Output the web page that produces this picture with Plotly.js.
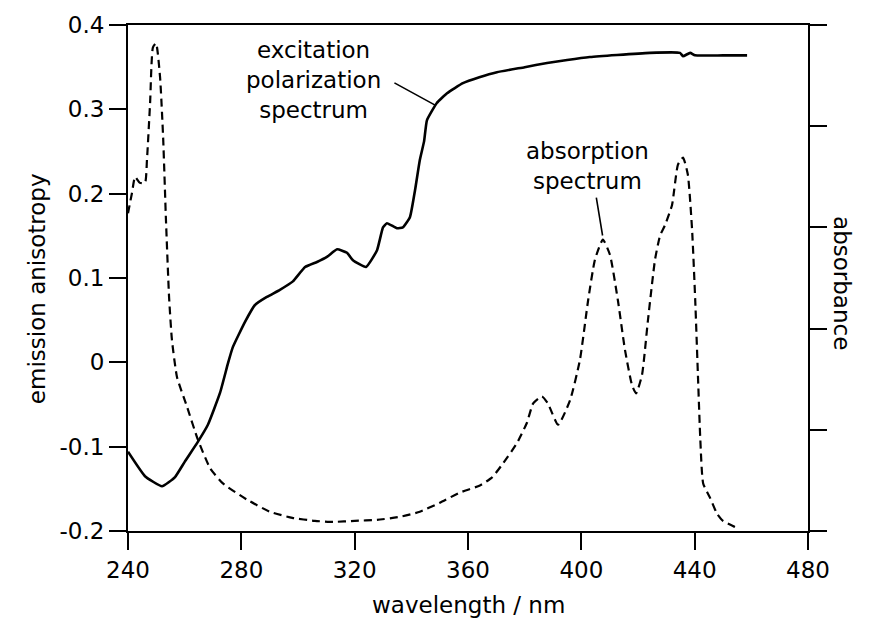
<!DOCTYPE html>
<html><head><meta charset="utf-8">
<script src="https://cdn.plot.ly/plotly-3.0.1.min.js"></script>
<style>html,body{margin:0;padding:0;background:#fff}#chart{width:869px;height:621px}</style>
</head><body><div id="chart"></div>
<script>
// Excitation polarization spectrum (emission anisotropy, left axis)
const excWavelength = [240, 246, 252, 256.6, 260, 264.7, 268.2, 272.5, 275.3, 277, 281.3, 284.8, 289, 293.6, 298.2, 302.5, 306.7, 310.2, 313.8, 317.3, 319.4, 324, 327.9, 330, 331.4, 334.9, 337, 339.5, 341.3, 343, 344.5, 345.5, 349, 352.6, 358.2, 364, 370.2, 380, 387.9, 395, 403, 412.6, 424.2, 434.8, 435.9, 438.4, 440.1, 450, 458.5];
const excAnisotropy = [-0.106, -0.135, -0.147, -0.136, -0.118, -0.094, -0.074, -0.036, -0.001, 0.018, 0.048, 0.068, 0.0775, 0.086, 0.096, 0.113, 0.119, 0.125, 0.134, 0.13, 0.121, 0.113, 0.133, 0.16, 0.165, 0.159, 0.16, 0.172, 0.204, 0.24, 0.262, 0.287, 0.3075, 0.319, 0.331, 0.338, 0.344, 0.35, 0.355, 0.3585, 0.362, 0.3645, 0.367, 0.367, 0.363, 0.367, 0.364, 0.364, 0.364];

// Absorption spectrum (absorbance, right axis, arbitrary units 0-5)
const absWavelength = [240, 241.4, 242.5, 244.2, 246, 246.7, 247.8, 248.8, 249.9, 251.3, 252.4, 253.4, 254.5, 255.5, 257.3, 260.8, 264.7, 269, 273.5, 282, 290.1, 298, 306, 312.4, 320, 327.9, 336, 343, 350.1, 357.2, 364.2, 368.5, 372.4, 377.3, 380.8, 383, 386.1, 388.2, 391.8, 396, 399.5, 402.4, 404.8, 407.6, 410.1, 412.9, 415.4, 417.9, 419.3, 421.4, 423.5, 426, 427.8, 429.5, 432, 434.1, 435.9, 437.6, 439.1, 440.2, 441.2, 442, 443, 445.4, 447.9, 450, 453.5, 455];
const absAbsorbance = [3.14, 3.34, 3.5, 3.44, 3.44, 3.67, 4.23, 4.78, 4.82, 4.49, 3.89, 3.07, 2.31, 1.89, 1.52, 1.23, 0.9, 0.62, 0.47, 0.31, 0.19, 0.13, 0.1, 0.09, 0.1, 0.11, 0.14, 0.19, 0.28, 0.38, 0.45, 0.53, 0.67, 0.87, 1.07, 1.26, 1.33, 1.26, 1.05, 1.29, 1.69, 2.28, 2.68, 2.88, 2.73, 2.28, 1.79, 1.44, 1.36, 1.54, 2.08, 2.68, 2.92, 3.02, 3.22, 3.62, 3.69, 3.52, 2.97, 2.28, 1.5, 0.9, 0.47, 0.33, 0.17, 0.1, 0.05, 0.03];

const xTickVals = [240, 280, 320, 360, 400, 440, 480];
const xTickText = ["240", "280", "320", "360", "400", "440", "480"];
const yTickVals = [0.4, 0.3, 0.2, 0.1, 0, -0.1, -0.2];
const yTickText = ["0.4", "0.3", "0.2", "0.1", "0", "-0.1", "-0.2"];
const y2TickVals = [0, 1, 2, 3, 4, 5];

const FONT = "DejaVu Sans, Liberation Sans, Arial, sans-serif";
const F = {family: FONT, size: 23, color: "#000"};

const traces = [
  {x: excWavelength, y: excAnisotropy, type: "scatter", mode: "lines",
   line: {color: "#000", width: 2.6, shape: "spline", smoothing: 0.4}, yaxis: "y", hoverinfo: "skip"},
  {x: absWavelength, y: absAbsorbance, type: "scatter", mode: "lines",
   line: {color: "#000", width: 2.2, dash: "8px,5px", shape: "spline", smoothing: 0.5}, yaxis: "y2", hoverinfo: "skip"}
];

const layout = {
  width: 869, height: 621,
  margin: {l: 128, r: 61, t: 25, b: 90},
  paper_bgcolor: "#fff", plot_bgcolor: "#fff",
  showlegend: false,
  font: F,
  xaxis: {
    range: [240, 480], tickvals: xTickVals, ticktext: xTickText,
    ticks: "outside", ticklen: 17, tickwidth: 2, tickcolor: "#000",
    showline: true, linewidth: 2, linecolor: "#000", mirror: true,
    showgrid: false, zeroline: false, tickfont: {family: FONT, size: 23, color: "#000"}
  },
  yaxis: {
    range: [-0.2, 0.4], tickvals: yTickVals, ticktext: yTickText,
    ticks: "outside", ticklen: 17, tickwidth: 2, tickcolor: "#000",
    showline: true, linewidth: 2, linecolor: "#000",
    showgrid: false, zeroline: false, tickfont: {family: FONT, size: 23, color: "#000"}
  },
  yaxis2: {
    range: [0, 5], tickvals: y2TickVals, overlaying: "y", side: "right", anchor: "x",
    ticks: "outside", ticklen: 17, tickwidth: 2, tickcolor: "#000",
    showline: true, linewidth: 2, linecolor: "#000",
    showgrid: false, zeroline: false, showticklabels: false
  },
  annotations: [
    {xref: "paper", yref: "paper", x: 0.5, y: 0, yshift: -74, yanchor: "middle", text: "wavelength / nm",
     showarrow: false, font: F},
    {xref: "paper", yref: "paper", x: 0, xshift: -106, y: 0.478, text: "emission anisotropy", textangle: -90,
     showarrow: false, font: F},
    {xref: "paper", yref: "paper", x: 1, xshift: 49, y: 0.49, text: "absorbance", textangle: 90,
     showarrow: false, font: F},
    {xref: "x", yref: "y", x: 305.3, y: 0.335, text: "excitation<br>polarization<br>spectrum",
     showarrow: false, align: "center", font: F},
    {xref: "x", yref: "y", x: 348.4, y: 0.305, ax: 333.5, ay: 0.3324, axref: "x", ayref: "y",
     showarrow: true, arrowhead: 0, arrowwidth: 1.6, arrowcolor: "#000", text: ""},
    {xref: "x", yref: "y2", x: 402, y: 3.61, text: "absorption<br>spectrum",
     showarrow: false, align: "center", font: F},
    {xref: "x", yref: "y2", x: 407.5, y: 2.92, ax: 405.2, ay: 3.31, axref: "x", ayref: "y2",
     showarrow: true, arrowhead: 0, arrowwidth: 1.6, arrowcolor: "#000", text: ""}
  ]
};

Plotly.newPlot("chart", traces, layout, {staticPlot: true, displayModeBar: false});
</script></body></html>
